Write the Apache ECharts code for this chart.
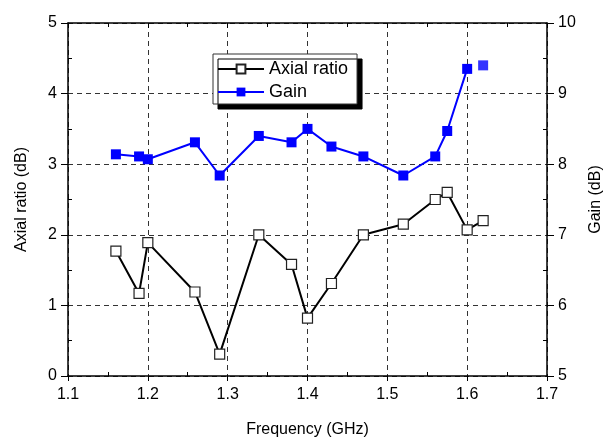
<!DOCTYPE html>
<html>
<head>
<meta charset="utf-8">
<script src="https://cdn.jsdelivr.net/npm/echarts@6/dist/echarts.min.js"></script>
<style>
  html, body { margin: 0; padding: 0; background: #fff; }
  #main { width: 606px; height: 438px; }
</style>
</head>
<body>
<div id="main"></div>
<script>
// frequency in GHz
const freq = [1.16, 1.189, 1.2, 1.259, 1.29, 1.339, 1.38, 1.40, 1.43, 1.47, 1.52, 1.56, 1.575, 1.60, 1.62];
// axial ratio (dB), left axis
const axialRatio = [1.77, 1.17, 1.89, 1.19, 0.31, 2.0, 1.58, 0.82, 1.31, 2.0, 2.15, 2.5, 2.6, 2.07, 2.2];
// gain (dB), right axis
const gain = [8.14, 8.11, 8.07, 8.31, 7.84, 8.4, 8.31, 8.5, 8.25, 8.11, 7.84, 8.11, 8.47, 9.35, 9.4];

const xTicks = ['1.1', '1.2', '1.3', '1.4', '1.5', '1.6', '1.7'];
const font = "'Liberation Sans', Arial, sans-serif";

const arData = freq.map((f, i) => [f, axialRatio[i]]);
// last gain point is not joined to the line
const gainLine = freq.slice(0, 14).map((f, i) => [f, gain[i]]);
const gainLast = [[freq[14], gain[14]]];

const chart = echarts.init(document.getElementById('main'));

const gridDash = { show: true, lineStyle: { color: '#333', type: [5, 4], width: 1 } };
const axisBlack = { show: true, lineStyle: { color: '#000', width: 1.5 } };

chart.setOption({
    animation: false,
    backgroundColor: '#fff',
    textStyle: { fontFamily: font },
    grid: { left: 68, right: 59, top: 23, bottom: 62, containLabel: false, outerBoundsMode: 'none' },
    legend: {
        orient: 'vertical',
        left: 213,
        top: 54,
        padding: [6, 9, 3, 4],
        itemGap: 5,
        itemWidth: 46,
        itemHeight: 11,
        backgroundColor: '#fff',
        borderColor: '#333',
        borderWidth: 1,
        shadowColor: '#000',
        shadowBlur: 0,
        shadowOffsetX: 5,
        shadowOffsetY: 5,
        textStyle: { fontSize: 18, color: '#000', fontFamily: font },
        data: ['Axial ratio', 'Gain']
    },
    xAxis: [
        {
            type: 'value', position: 'bottom', min: 1.1, max: 1.7, interval: 0.1,
            name: 'Frequency (GHz)', nameLocation: 'middle', nameGap: 46,
            nameTextStyle: { fontSize: 16, color: '#000' },
            axisLine: axisBlack,
            axisTick: { show: true, inside: false, length: 5, lineStyle: { color: '#000' } },
            axisLabel: { fontSize: 16, color: '#000', margin: 11, formatter: v => xTicks[Math.round((v - 1.1) * 10)] },
            splitLine: gridDash
        },
        {
            type: 'value', position: 'bottom', min: 1.1, max: 1.7, interval: 0.1,
            axisLine: { show: false }, axisLabel: { show: false }, splitLine: { show: false },
            axisTick: { show: false, inside: true },
            minorTick: { show: true, splitNumber: 2, length: 4, lineStyle: { color: '#000' } }
        },
        {
            type: 'value', position: 'top', min: 1.1, max: 1.7, interval: 0.1,
            axisLine: axisBlack, axisLabel: { show: false }, splitLine: { show: false },
            axisTick: { show: true, inside: true, length: 5, lineStyle: { color: '#000' } },
            minorTick: { show: true, splitNumber: 2, length: 4, lineStyle: { color: '#000' } }
        }
    ],
    yAxis: [
        {
            type: 'value', position: 'left', min: 0, max: 5, interval: 1,
            name: 'Axial ratio (dB)', nameLocation: 'middle', nameGap: 38,
            nameTextStyle: { fontSize: 16, color: '#000' },
            axisLine: axisBlack,
            axisTick: { show: true, inside: false, length: 7, lineStyle: { color: '#000' } },
            axisLabel: { fontSize: 16, color: '#000', margin: 11 },
            splitLine: gridDash
        },
        {
            type: 'value', position: 'right', min: 5, max: 10, interval: 1,
            name: 'Gain (dB)', nameLocation: 'middle', nameGap: 41, nameRotate: 90,
            nameTextStyle: { fontSize: 16, color: '#000' },
            axisLine: axisBlack,
            axisTick: { show: true, inside: false, length: 7, lineStyle: { color: '#000' } },
            axisLabel: { fontSize: 16, color: '#000', margin: 11 },
            splitLine: { show: false }
        },
        {
            type: 'value', position: 'left', min: 0, max: 5, interval: 1,
            axisLine: { show: false }, axisLabel: { show: false }, splitLine: { show: false },
            axisTick: { show: false, inside: true },
            minorTick: { show: true, splitNumber: 2, length: 4, lineStyle: { color: '#000' } }
        },
        {
            type: 'value', position: 'right', min: 5, max: 10, interval: 1,
            axisLine: { show: false }, axisLabel: { show: false }, splitLine: { show: false },
            axisTick: { show: false, inside: true },
            minorTick: { show: true, splitNumber: 2, length: 4, lineStyle: { color: '#000' } }
        }
    ],
    series: [
        {
            name: 'Axial ratio', type: 'line', xAxisIndex: 0, yAxisIndex: 0,
            data: arData,
            symbol: 'rect', symbolSize: 10,
            lineStyle: { color: '#000', width: 2 },
            itemStyle: { color: '#fff', borderColor: '#222', borderWidth: 1.2 },
            z: 3
        },
        {
            name: 'Gain', type: 'line', xAxisIndex: 0, yAxisIndex: 1,
            data: gainLine,
            symbol: 'rect', symbolSize: 10,
            lineStyle: { color: '#0000ff', width: 2 },
            itemStyle: { color: '#0000ff', borderWidth: 0 },
            z: 3
        },
        {
            type: 'scatter', xAxisIndex: 0, yAxisIndex: 1,
            data: gainLast,
            symbol: 'rect', symbolSize: 10,
            itemStyle: { color: '#0000ff' },
            z: 3
        }
    ]
});
</script>
</body>
</html>
